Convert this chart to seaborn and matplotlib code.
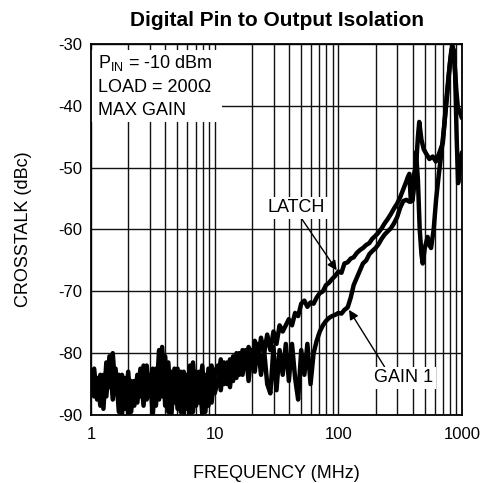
import matplotlib
matplotlib.use('Agg')
import matplotlib.pyplot as plt
import matplotlib.patches as patches
from matplotlib.ticker import LogLocator, NullFormatter
import pandas as pd
import seaborn as sns

# Curve data (frequency in MHz, crosstalk in dBc)
latch_freq = [1.00, 1.06, 1.12, 1.19, 1.26, 1.33, 1.41, 1.50, 1.58, 1.68, 1.78, 1.88, 2.00, 2.11, 2.24,
              2.37, 2.51, 2.66, 2.82, 2.99, 3.16, 3.35, 3.55, 3.76, 3.98, 4.22, 4.47, 4.73, 5.01, 5.31,
              5.62, 5.96, 6.31, 6.68, 7.08, 7.50, 7.94, 8.41, 8.91, 9.44, 10.0,
              10.6, 11.2, 11.9, 12.6, 13.3, 14.1, 15.0, 15.8, 16.8, 17.8, 18.8, 20.0, 21.1, 22.4, 23.7,
              25.1, 26.6, 28.2, 29.9, 31.6, 33.5, 35.5, 37.6, 39.8, 42.2, 44.7, 47.3, 50.1, 53.1, 56.2,
              59.6, 63.1, 66.8, 70.8, 75.0, 79.4, 84.1, 89.1, 94.4, 100, 106, 112, 119, 126, 133, 141,
              150, 158, 168, 178, 188, 200, 211, 224, 237, 251, 266, 282, 299, 316, 335, 355, 365, 375,
              386, 398, 410, 425, 440, 451, 470, 490, 512, 545, 580, 615, 653, 700, 740, 780, 820, 842,
              870, 900, 925, 960, 1000]
latch_db = [-83, -87, -84, -88.5, -83.5, -87, -80.5, -87.5, -82.5, -89.5, -83.5, -89, -83, -89.5, -84.5,
            -88, -82.5, -88.5, -82, -87, -82.5, -88.5, -79.5, -87, -80.5, -89.5, -83, -88, -82.5, -89.5,
            -83, -89, -82, -89.5, -83, -88, -82, -89.5, -82.5, -88, -83,
            -82, -86, -81.5, -85, -81, -84.5, -80, -83.5, -79.5, -82.5, -79, -82, -78, -81, -77.5,
            -80, -77, -79.5, -76.5, -78.5, -75.5, -76.5, -75.5, -74.5, -75.5, -73.5, -74, -72, -71.5, -72.5,
            -71.8, -72, -71, -70.3, -70, -69, -68.6, -68, -67.5, -66.8, -67, -65.5, -65.3, -64.7, -64.5, -63.8,
            -63.3, -63, -62.5, -62.2, -61.5, -61, -60.5, -59.8, -59, -58.3, -57.5, -56.6, -55.8, -54.8, -53.5, -52.2, -51.5, -51,
            -55.5, -55, -51, -49.8, -45, -42.6, -45.5, -47, -47.7, -48.6, -48.2, -49, -47.7, -46, -40, -35, -31, -30.4,
            -33, -37.5, -40.2, -41, -42]

gain1_freq = [1.00, 1.06, 1.12, 1.19, 1.26, 1.33, 1.41, 1.50, 1.58, 1.68, 1.78, 1.88, 2.00, 2.11, 2.24,
              2.37, 2.51, 2.66, 2.82, 2.99, 3.16, 3.35, 3.55, 3.76, 3.98, 4.22, 4.47, 4.73, 5.01, 5.31,
              5.62, 5.96, 6.31, 6.68, 7.08, 7.50, 7.94, 8.41, 8.91, 9.44, 10.0,
              10.6, 11.2, 11.9, 12.6, 13.3, 14.1, 15.0, 15.8, 16.8, 17.8, 18.8, 20.0, 21.1, 22.4, 23.7,
              25.1, 26.6, 28.2, 29.9, 31.6, 33.5, 35.5, 37.6, 39.8, 42.2, 44.7, 47.3, 50.1, 53.1, 56.2,
              59.6, 63.1, 66.8, 70.8, 75.0, 79.4, 84.1, 89.1, 94.4, 100, 106, 112, 119, 126, 133, 141,
              150, 158, 168, 178, 188, 200, 211, 224, 237, 251, 266, 282, 299, 316, 335, 355, 375,
              398, 410, 425, 440, 455, 470, 481, 500, 527, 545, 562, 590, 617, 650, 676, 720, 760, 800,
              830, 860, 880, 905, 930, 960, 1000]
gain1_db = [-85.5, -82.5, -87.5, -83.5, -89, -81.5, -85.5, -80, -86.5, -83.5, -90, -84, -90, -84.5, -88.5,
            -83.5, -87, -82, -87.5, -83.5, -90, -82.5, -87.5, -79, -88.5, -81.5, -90, -82.5, -89, -83,
            -90, -83.5, -90, -81.5, -88.5, -83, -90, -83.5, -88.5, -82, -86.5,
            -84.5, -81, -85, -81.5, -85.5, -80.5, -84, -80, -83.5, -79.5, -84.5, -79.5, -83, -78.5, -83.5,
            -79.5, -85, -86.5, -79, -86, -79.5, -83.5, -78.5, -84.5, -78.5, -84, -87.5, -79.5, -83.5, -78.5,
            -85, -80, -78, -76.5, -75.5, -74.8, -74.3, -74, -73.8, -73.5, -73.6, -73, -72.6, -71, -69, -67.8,
            -66.5, -65.5, -65, -64, -63.5, -63, -62.4, -61.5, -60.8, -60.3, -59.8, -59, -58, -56.5, -55.4, -55.2, -55.5,
            -55.3, -53, -47.5, -52, -60, -64, -65.5, -63, -61.2, -62.5, -63, -60, -55.2, -51, -48.2, -43, -38, -33,
            -30.5, -31, -35, -45, -52.5, -50, -47.5]

x_ticks = [1, 10, 100, 1000]
x_tick_labels = ['1', '10', '100', '1000']
y_ticks = [-90, -80, -70, -60, -50, -40, -30]

df = pd.concat([
    pd.DataFrame({'freq': latch_freq, 'db': latch_db, 'curve': 'LATCH'}),
    pd.DataFrame({'freq': gain1_freq, 'db': gain1_db, 'curve': 'GAIN 1'}),
])

sns.set_style('white')
plt.rcParams['font.family'] = ['Liberation Sans', 'DejaVu Sans']
plt.rcParams['mathtext.fontset'] = 'custom'
plt.rcParams['mathtext.rm'] = 'Liberation Sans'
plt.rcParams['axes.unicode_minus'] = False
plt.rcParams['text.color'] = 'black'
plt.rcParams['axes.labelcolor'] = 'black'

fig = plt.figure(figsize=(4.89, 4.83), dpi=100)
ax = fig.add_axes([0.1861, 0.1408, 0.7587, 0.7681])

sns.lineplot(data=df, x='freq', y='db', hue='curve', palette=['black', 'black'],
             estimator=None, sort=False, legend=False, linewidth=3.2, ax=ax)

ax.set_xscale('log')
ax.set_xlim(1, 1000)
ax.set_ylim(-90, -30)
ax.set_xticks(x_ticks)
ax.set_xticklabels(x_tick_labels)
ax.xaxis.set_minor_locator(LogLocator(base=10, subs=range(2, 10)))
ax.xaxis.set_minor_formatter(NullFormatter())
ax.set_yticks(y_ticks)
ax.tick_params(axis='both', which='both', length=0, labelsize=12, colors='black')
ax.tick_params(axis='x', pad=9)
ax.tick_params(axis='y', pad=6)

# Grid (major + minor), drawn below curves
ax.set_axisbelow(True)
ax.grid(True, which='major', color='#111111', linewidth=1.0)
ax.grid(True, which='minor', axis='x', color='#111111', linewidth=1.0)
for s in ax.spines.values():
    s.set_color('black')
    s.set_linewidth(1.3)

ax.set_title('Digital Pin to Output Isolation', fontsize=15, fontweight='bold', pad=13)
ax.set_xlabel('FREQUENCY (MHz)', fontsize=13, labelpad=16)
ax.set_ylabel('CROSSTALK (dBc)', fontsize=13, labelpad=19)

# Condition box in the upper left
ax.add_patch(patches.Rectangle((0, 0.79), 0.353, 0.195, transform=ax.transAxes,
                               facecolor='white', edgecolor='none', zorder=1))
ax.text(0.018, 0.949, r'P$_\mathrm{IN}$ = -10 dBm', transform=ax.transAxes, fontsize=13, va='center', zorder=3)
ax.text(0.018, 0.884, 'LOAD = 200\u03a9', transform=ax.transAxes, fontsize=13, va='center', zorder=3)
ax.text(0.018, 0.822, 'MAX GAIN', transform=ax.transAxes, fontsize=13, va='center', zorder=3)

arrow = dict(arrowstyle='-|>', color='black', lw=1.0, mutation_scale=14, shrinkA=0, shrinkB=0)
ax.annotate('LATCH', xy=(97, -66.6), xytext=(46, -56.5), fontsize=13, ha='center', va='center',
            bbox=dict(boxstyle='square,pad=0.15', fc='white', ec='none'),
            arrowprops=dict(arrow, relpos=(0.56, 0.0)), zorder=3)
ax.annotate('GAIN 1', xy=(122, -73.0), xytext=(339, -84.0), fontsize=13, ha='center', va='center',
            bbox=dict(boxstyle='square,pad=0.15', fc='white', ec='none'),
            arrowprops=dict(arrow, relpos=(0.2, 1.0)), zorder=3)

fig.savefig('out.png', dpi=100)
